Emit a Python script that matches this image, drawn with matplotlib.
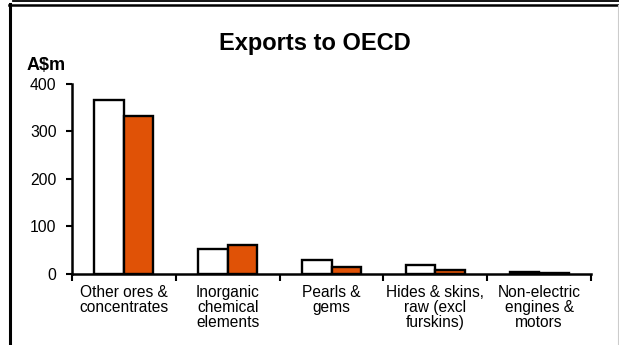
import matplotlib
matplotlib.use("Agg")
import matplotlib.pyplot as plt
from matplotlib.lines import Line2D
import numpy as np

plt.rcParams['font.family'] = ['Liberation Sans', 'DejaVu Sans']

categories = ["Other ores &\nconcentrates", "Inorganic\nchemical\nelements",
              "Pearls &\ngems", "Hides & skins,\nraw (excl\nfurskins)",
              "Non-electric\nengines &\nmotors"]
series_a = [367, 51, 28, 18, 3]   # white bars
series_b = [332, 60, 14, 7, 2]    # orange bars
yticks = [0, 100, 200, 300, 400]

W, H = 619, 345
fig = plt.figure(figsize=(W / 100, H / 100), dpi=100)
ax = fig.add_axes([72 / W, 1 - 273.5 / H, (591 - 72) / W, (273.5 - 84) / H])

x = np.arange(len(categories))
bw = 0.285
ax.bar(x - bw / 2, series_a, bw, color='white', edgecolor='black', linewidth=1.7, zorder=3)
ax.bar(x + bw / 2, series_b, bw, color='#E05206', edgecolor='black', linewidth=1.7, zorder=3)

ax.set_xlim(-0.5, len(categories) - 0.5)
ax.set_ylim(0, 400)
ax.set_yticks(yticks)
ax.set_yticklabels([str(v) for v in yticks], fontsize=11.3)
ax.tick_params(axis='y', direction='out', length=4, width=1.5, pad=7)

ax.set_xticks(x)
ax.set_xticklabels(categories, fontsize=11.2, linespacing=1.0)
ax.tick_params(axis='x', which='major', length=0, pad=8)
ax.set_xticks(np.arange(-0.5, len(categories)), minor=True)
ax.tick_params(axis='x', which='minor', direction='out', length=5, width=1.5)

for s in ['top', 'right']:
    ax.spines[s].set_visible(False)
for s in ['left', 'bottom']:
    ax.spines[s].set_linewidth(1.8)

fig.text(315 / W, 1 - 43.5 / H, "Exports to OECD", ha='center', va='center',
         fontsize=17, fontweight='bold')
fig.text(27 / W, 1 - 66 / H, "A$m", ha='left', va='center', fontsize=13, fontweight='bold')

# frame lines
fig.add_artist(Line2D([13 / W, 1], [1 - 0.8 / H, 1 - 0.8 / H], color='black', lw=1.3,
                      transform=fig.transFigure))
fig.add_artist(Line2D([8.5 / W, 1], [1 - 4.5 / H, 1 - 4.5 / H], color='black', lw=1.8,
                      transform=fig.transFigure))
fig.add_artist(Line2D([10 / W, 10 / W], [0, 1 - 3.5 / H], color='black', lw=2.2,
                      transform=fig.transFigure))
fig.add_artist(Line2D([617.5 / W, 617.5 / W], [0, 1 - 5 / H], color='#cccccc', lw=0.8,
                      transform=fig.transFigure))

fig.savefig("out.png", dpi=100)
